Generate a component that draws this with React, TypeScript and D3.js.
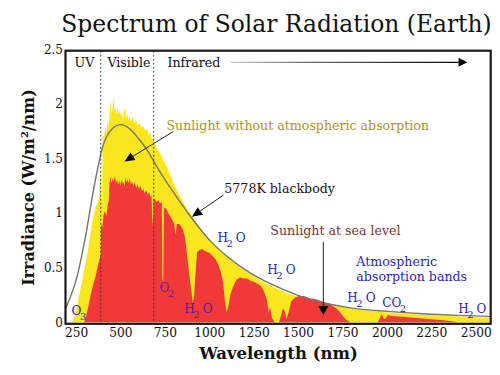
import React from "react";
import * as d3 from "d3";

// ---- data (wavelength nm, irradiance W/m²/nm) ----
const am0Spectrum: [number, number][] = [
  [188, 0], [225, 0], [240, 0.06], [250, 0.12], [265, 0.25], [280, 0.36], [290, 0.45], [300, 0.55],
  [312, 0.63], [325, 0.78], [340, 0.93], [350, 1.0], [360, 1.06], [370, 1.1], [380, 1.18], [386, 1.4],
  [390, 1.12], [394, 1.05], [397, 1.72], [405, 1.7], [412, 1.8], [418, 1.74], [425, 1.84], [432, 1.8],
  [438, 1.98], [443, 2.02], [448, 1.9], [455, 2.0], [460, 2.05], [465, 1.93], [470, 1.97], [476, 1.9],
  [482, 1.98], [488, 1.91], [494, 1.95], [500, 1.88], [506, 1.93], [512, 1.86], [518, 1.95], [524, 1.96],
  [530, 1.87], [536, 1.91], [542, 1.85], [548, 1.89], [556, 1.84], [565, 1.88], [575, 1.82], [585, 1.85],
  [595, 1.8], [605, 1.83], [615, 1.78], [625, 1.8], [635, 1.76], [645, 1.77], [655, 1.72], [665, 1.73],
  [675, 1.68], [685, 1.66], [700, 1.6], [720, 1.55], [740, 1.48], [760, 1.42], [780, 1.34], [800, 1.26],
  [830, 1.16], [860, 1.07], [900, 0.97], [950, 0.85], [1000, 0.76], [1050, 0.67], [1100, 0.6],
  [1150, 0.53], [1200, 0.47], [1250, 0.42], [1300, 0.37], [1350, 0.33], [1400, 0.29], [1450, 0.26],
  [1500, 0.235], [1550, 0.21], [1600, 0.19], [1650, 0.17], [1700, 0.155], [1750, 0.14], [1800, 0.125],
  [1900, 0.105], [2000, 0.09], [2100, 0.078], [2200, 0.068], [2300, 0.06], [2400, 0.052], [2500, 0.046],
  [2600, 0.04],
];

const seaLevelSpectrum: [number, number][] = [
  [188, 0], [292, 0], [300, 0.03], [310, 0.1], [320, 0.17], [330, 0.25], [340, 0.32], [350, 0.38],
  [360, 0.44], [370, 0.52], [380, 0.58], [386, 0.62], [388, 0.9], [395, 0.86], [402, 0.98], [410, 1.02],
  [418, 0.97], [426, 1.08], [432, 1.12], [436, 1.28], [442, 1.33], [448, 1.27], [454, 1.32], [460, 1.29],
  [466, 1.34], [472, 1.27], [478, 1.31], [484, 1.26], [490, 1.3], [496, 1.25], [502, 1.31], [508, 1.27],
  [514, 1.29], [520, 1.24], [526, 1.33], [532, 1.28], [538, 1.31], [544, 1.27], [550, 1.32], [556, 1.26],
  [562, 1.29], [570, 1.25], [578, 1.28], [586, 1.23], [594, 1.26], [602, 1.22], [610, 1.25], [618, 1.2],
  [626, 1.22], [634, 1.18], [642, 1.21], [650, 1.17], [658, 1.19], [666, 1.15], [672, 1.16], [676, 0.95],
  [680, 0.88], [684, 1.12], [692, 1.13], [700, 1.1], [710, 1.12], [720, 1.09], [730, 1.1], [733, 0.4],
  [738, 0.36], [742, 1.05], [755, 1.04], [770, 0.99], [785, 0.95], [800, 0.9], [808, 0.8], [814, 0.9],
  [830, 0.9], [845, 0.86], [858, 0.8], [868, 0.68], [880, 0.5], [895, 0.3], [905, 0.18], [912, 0.25],
  [920, 0.45], [928, 0.64], [940, 0.66], [956, 0.67], [975, 0.65], [995, 0.64], [1015, 0.61],
  [1035, 0.57], [1050, 0.52], [1062, 0.46], [1075, 0.37], [1085, 0.2], [1095, 0.09], [1105, 0.15],
  [1115, 0.25], [1130, 0.32], [1150, 0.39], [1170, 0.41], [1190, 0.4], [1210, 0.4], [1230, 0.38],
  [1250, 0.37], [1270, 0.35], [1290, 0.33], [1308, 0.27], [1322, 0.2], [1332, 0.09], [1340, 0.14],
  [1350, 0.04], [1365, 0], [1390, 0], [1400, 0.06], [1412, 0.13], [1422, 0.1], [1432, 0.03],
  [1445, 0.1], [1458, 0.19], [1475, 0.22], [1500, 0.24], [1530, 0.24], [1560, 0.22], [1600, 0.21],
  [1640, 0.185], [1680, 0.16], [1710, 0.13], [1730, 0.1], [1750, 0.055], [1770, 0.02], [1790, 0],
  [1945, 0], [1955, 0.03], [1968, 0.075], [1978, 0.035], [1990, 0.03], [2002, 0.07], [2015, 0.06],
  [2040, 0.055], [2080, 0.05], [2130, 0.045], [2180, 0.038], [2230, 0.03], [2280, 0.024],
  [2330, 0.016], [2370, 0.008], [2400, 0], [2600, 0],
];

const blackbody: [number, number][] = [
  [180, 0.1], [200, 0.17], [250, 0.4], [300, 0.78], [350, 1.25], [400, 1.62], [450, 1.77], [500, 1.81],
  [550, 1.77], [600, 1.68], [650, 1.57], [700, 1.43], [750, 1.3], [800, 1.18], [900, 0.95], [1000, 0.75],
  [1100, 0.6], [1200, 0.48], [1300, 0.385], [1400, 0.31], [1500, 0.245], [1600, 0.195], [1800, 0.13],
  [2000, 0.1], [2200, 0.078], [2400, 0.063], [2600, 0.052],
];

const xTicks = [250, 500, 750, 1000, 1250, 1500, 1750, 2000, 2250, 2500];
const yTicks = [0, 0.5, 1, 1.5, 2, 2.5];
const yTickLabels = ["0", "0.5", "1", "1.5", "2", "2.5"];
const bandEdges = [386.5, 684.6];

// absorption labels: [text, subscript, rest, wavelength, irradiance, colour]
const absorptionLabels: [string, string, string, number, number, string][] = [
  ["O", "3", "", 222, 0.067, "#2a1fb8"],
  ["O", "2", "", 717, 0.277, "#6a1e9e"],
  ["H", "2", "O", 857, 0.088, "#5a1aa8"],
  ["H", "2", "O", 1043, 0.738, "#2a1fb8"],
  ["H", "2", "O", 1324, 0.442, "#2a1fb8"],
  ["H", "2", "O", 1774, 0.189, "#2a1fb8"],
  ["CO", "2", "", 1971, 0.143, "#2a1fb8"],
  ["H", "2", "O", 2398, 0.085, "#2a1fb8"],
];

const FONT = "DejaVu Serif";
const NOTE = 12.6;

const x = d3.scaleLinear().domain([188, 2581]).range([65.5, 490.7]);
const y = d3.scaleLinear().domain([0, 2.5]).range([322.3, 49.2]);

function Arrow({ x1, y1, x2, y2, len = 10, half = 4.5, stroke = "#222", width = 1 }: any) {
  const dx = x2 - x1, dy = y2 - y1;
  const L = Math.hypot(dx, dy);
  const ux = dx / L, uy = dy / L;
  const bx = x2 - ux * len, by = y2 - uy * len;
  const px = -uy, py = ux;
  const pts = `${x2},${y2} ${bx + px * half},${by + py * half} ${bx - px * half},${by - py * half}`;
  return (
    <g>
      <line x1={x1} y1={y1} x2={bx} y2={by} stroke={stroke} strokeWidth={width} />
      <polygon points={pts} fill="#000" />
    </g>
  );
}

export default function App() {
  const area = d3
    .area<[number, number]>()
    .x((d) => x(d[0]))
    .y0(y(0))
    .y1((d) => y(d[1]));
  const line = d3
    .line<[number, number]>()
    .x((d) => x(d[0]))
    .y((d) => y(d[1]))
    .curve(d3.curveMonotoneX);

  const left = x(188), right = x(2581), top = y(2.5) + 1.5, bottom = y(0) + 1.5;

  return (
    <svg width={500} height={375} style={{ position: "absolute", left: 0, top: 0, background: "#fff" }}
      fontFamily={FONT}>
      <defs>
        <clipPath id="plot">
          <rect x={left} y={top} width={right - left} height={bottom - top} />
        </clipPath>
        <linearGradient id="irGrad" gradientUnits="userSpaceOnUse" x1={x(1116)} y1="0" x2={x(2449)} y2="0">
          <stop offset="0" stopColor="#c8c8c8" />
          <stop offset="0.35" stopColor="#666" />
          <stop offset="1" stopColor="#000" />
        </linearGradient>
      </defs>

      <text x={276.5} y={31.5} textAnchor="middle" fontSize={23.4} fill="#111">
        Spectrum of Solar Radiation (Earth)
      </text>

      <g clipPath="url(#plot)">
        <path d={area(am0Spectrum) || ""} fill="#fae61e" />
        <path d={area(seaLevelSpectrum) || ""} fill="#f03a3a" />
        <path d={line(blackbody) || ""} fill="none" stroke="#76766c" strokeWidth={1.4} />
        {bandEdges.map((b) => (
          <line key={b} x1={x(b)} x2={x(b)} y1={top} y2={bottom} stroke="#333" strokeWidth={0.9}
            strokeDasharray="2,2" />
        ))}
      </g>

      <rect x={left} y={top} width={right - left} height={bottom - top} fill="none" stroke="#1a1a1a"
        strokeWidth={2.2} />

      {yTicks.map((t, i) => (
        <text key={t} x={63} y={y(t)} dy="0.36em" textAnchor="end" fontSize={12} fill="#111">
          {yTickLabels[i]}
        </text>
      ))}
      {xTicks.map((t) => (
        <text key={t} x={x(t)} y={336.7} textAnchor="middle" fontSize={12.2} fill="#111">
          {t}
        </text>
      ))}

      <text transform="translate(33.5,187.5) rotate(-90)" textAnchor="middle" fontSize={16}
        fontWeight="bold" fill="#111">
        Irradiance (W/m<tspan dy={-6} fontSize={10}>2</tspan><tspan dy={6}>/nm)</tspan>
      </text>
      <text x={278.5} y={359} textAnchor="middle" fontSize={16.5} fontWeight="bold" fill="#111">
        Wavelength (nm)
      </text>

      <text x={x(239)} y={y(2.34)} fontSize={NOTE} fill="#111">UV</text>
      <text x={x(424)} y={y(2.34)} fontSize={NOTE} fill="#111">Visible</text>
      <text x={x(762)} y={y(2.34)} fontSize={NOTE} fill="#111">Infrared</text>
      <line x1={x(1116)} y1={y(2.38)} x2={x(2400)} y2={y(2.38)} stroke="url(#irGrad)" strokeWidth={1.2} />
      <polygon
        points={`${x(2449)},${y(2.38)} ${x(2400)},${y(2.38) - 4.5} ${x(2400)},${y(2.38) + 4.5}`}
        fill="#000" />

      <text x={x(756)} y={y(1.76)} fontSize={NOTE} fill="#a8951a">
        Sunlight without atmospheric absorption
      </text>
      <Arrow x1={x(795)} y1={y(1.747)} x2={x(520)} y2={y(1.472)} />

      <text x={x(1082)} y={y(1.186)} fontSize={NOTE} fill="#2a1010">5778K blackbody</text>
      <Arrow x1={x(1077)} y1={y(1.165)} x2={x(900)} y2={y(0.967)} />

      <text x={x(1341)} y={y(0.8)} fontSize={NOTE} fill="#7a3434">Sunlight at sea level</text>
      <Arrow x1={x(1639)} y1={y(0.735)} x2={x(1639)} y2={y(0.067)} len={9} half={5} />

      <text x={x(1825)} y={y(0.515)} fontSize={NOTE} fill="#2a1fb8">Atmospheric</text>
      <text x={x(1825)} y={y(0.378)} fontSize={NOTE} fill="#2a1fb8">absorption bands</text>

      {absorptionLabels.map(([a, s, b, w, v, c], i) => (
        <text key={i} x={x(w)} y={y(v)} fill={c} fontSize={12}>
          {a}
          <tspan dx={-1.5} dy={5} fontSize={10}>{s}</tspan>
          {b ? <tspan dx={3} dy={-5}>{b}</tspan> : null}
        </text>
      ))}
    </svg>
  );
}
